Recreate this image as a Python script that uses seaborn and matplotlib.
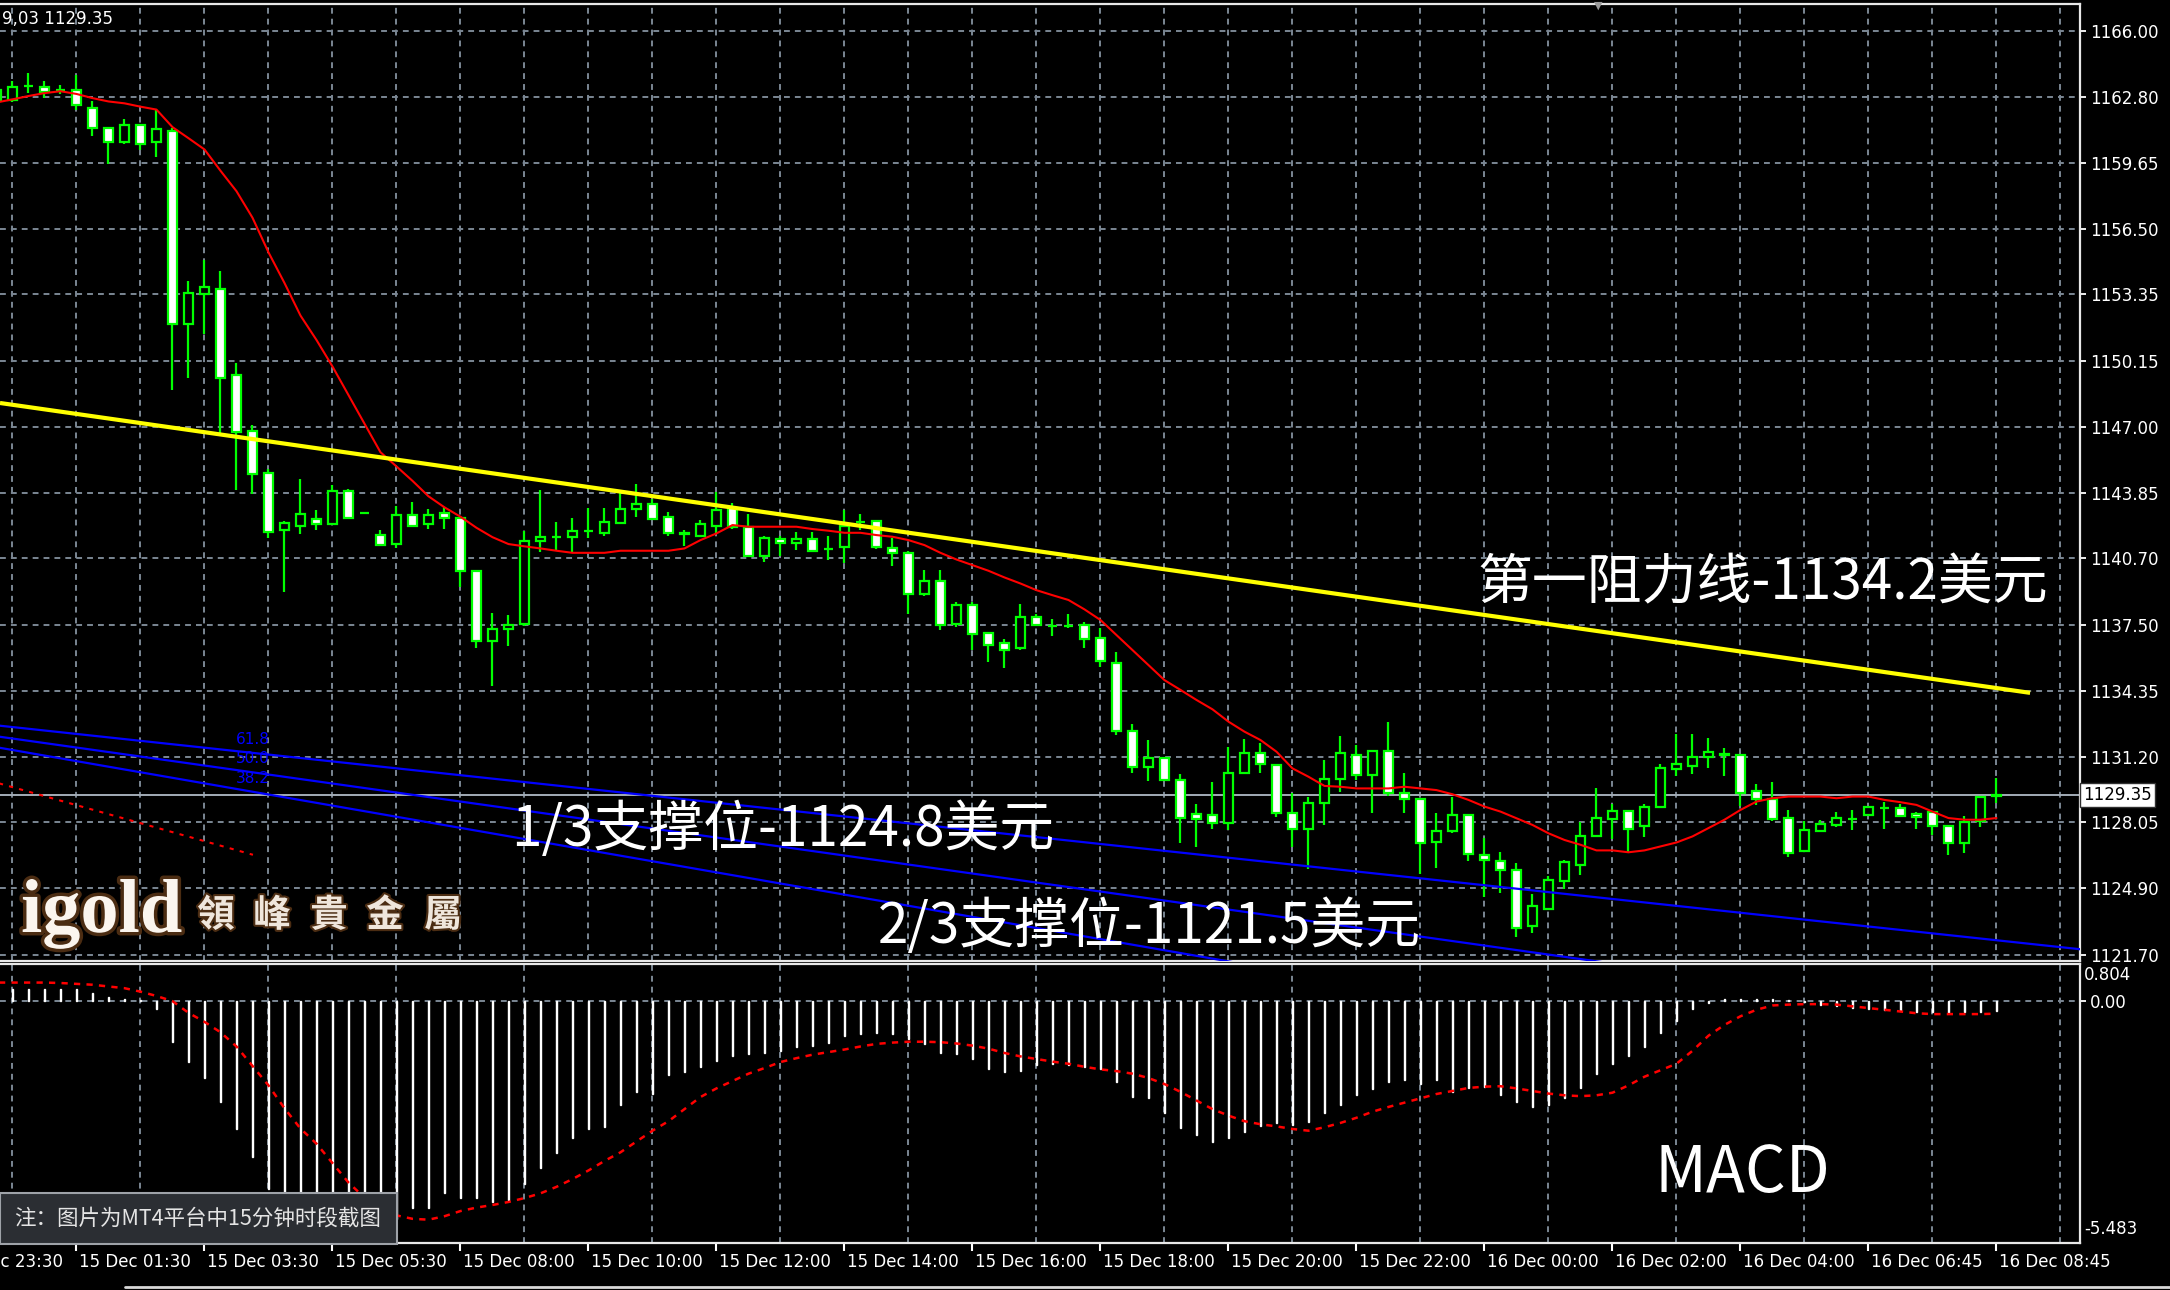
import matplotlib
matplotlib.use("Agg")
import matplotlib.pyplot as plt
import matplotlib.transforms as mtransforms
import matplotlib.patheffects as pe
from matplotlib.patches import Rectangle
from matplotlib.lines import Line2D
import seaborn as sns
import pandas as pd

sns.set_theme(style="dark", rc={"axes.facecolor": "black", "figure.facecolor": "black"})
plt.rcParams["font.family"] = ["DejaVu Sans", "Noto Sans CJK SC"]

# ---------------------------------------------------------------
# data (15 min bars, index 0 = first full bar on screen)
# ---------------------------------------------------------------
bar_idx = list(range(-1, 125))

opens = [1162.66, 1162.66, 1163.35, 1163.29, 1163.15, 1163.15, 1162.31, 1161.33, 1160.65, 1161.47,
         1160.65, 1161.20, 1151.95, 1153.38, 1153.61, 1149.50, 1146.81, 1144.81, 1142.07, 1142.27,
         1142.60, 1142.37, 1143.93, 1142.88, 1141.82, 1141.39, 1142.80, 1142.37, 1142.90, 1142.66,
         1140.12, 1136.74, 1137.32, 1137.58, 1141.53, 1141.74, 1141.71, 1142.03, 1141.90, 1142.38,
         1143.07, 1143.29, 1142.70, 1141.93, 1141.79, 1142.27, 1143.10, 1142.22, 1140.83, 1141.64,
         1141.42, 1141.64, 1141.15, 1141.23, 1142.46, 1142.49, 1141.18, 1140.97, 1139.02, 1139.63,
         1137.58, 1138.49, 1137.13, 1136.65, 1136.43, 1137.90, 1137.47, 1137.48, 1137.51, 1136.87,
         1135.70, 1132.45, 1130.72, 1131.12, 1130.08, 1128.44, 1128.41, 1128.02, 1130.40, 1131.39,
         1130.80, 1128.52, 1127.75, 1128.99, 1130.14, 1131.30, 1130.34, 1131.47, 1129.46, 1129.19,
         1127.09, 1127.64, 1128.41, 1126.50, 1126.21, 1125.75, 1123.07, 1123.90, 1125.25, 1126.03,
         1127.38, 1128.22, 1128.62, 1127.86, 1128.78, 1130.61, 1130.77, 1131.20, 1131.33, 1131.28,
         1129.58, 1129.18, 1128.26, 1126.70, 1127.65, 1127.91, 1128.22, 1128.42, 1128.73, 1128.73,
         1128.44, 1128.53, 1127.86, 1127.06, 1128.10, 1129.30]
highs = [1163.20, 1163.58, 1163.97, 1163.58, 1163.39, 1163.88, 1162.64, 1161.33, 1161.76, 1161.47,
         1162.21, 1161.33, 1154.00, 1154.98, 1154.49, 1150.09, 1147.10, 1145.01, 1142.51, 1144.52,
         1143.00, 1144.23, 1144.03, 1142.88, 1142.07, 1143.19, 1143.39, 1143.09, 1143.15, 1142.70,
         1140.12, 1138.11, 1138.01, 1142.00, 1143.98, 1142.44, 1142.62, 1143.13, 1143.10, 1143.82,
         1144.27, 1143.53, 1142.91, 1142.06, 1142.54, 1143.87, 1143.34, 1142.83, 1141.77, 1141.77,
         1141.98, 1141.98, 1141.77, 1143.02, 1142.83, 1142.49, 1141.66, 1141.07, 1140.14, 1140.14,
         1138.62, 1138.62, 1137.13, 1136.86, 1138.51, 1138.03, 1137.82, 1138.02, 1137.64, 1137.35,
         1136.20, 1132.77, 1132.00, 1131.12, 1130.37, 1128.93, 1130.00, 1131.67, 1132.07, 1131.87,
         1130.80, 1129.48, 1129.28, 1131.04, 1132.20, 1131.78, 1131.50, 1132.84, 1130.43, 1129.19,
         1128.52, 1129.28, 1128.41, 1127.29, 1126.61, 1126.13, 1124.63, 1125.46, 1126.26, 1128.05,
         1129.69, 1128.94, 1128.62, 1128.94, 1130.85, 1132.28, 1132.28, 1132.08, 1131.60, 1131.28,
         1129.90, 1130.01, 1128.65, 1128.10, 1128.15, 1128.53, 1128.65, 1128.81, 1129.05, 1128.94,
         1128.53, 1128.62, 1127.94, 1128.34, 1129.29, 1130.17]
lows = [1162.50, 1162.55, 1163.00, 1162.76, 1162.96, 1162.21, 1160.94, 1159.61, 1160.55, 1160.26,
        1159.96, 1148.76, 1149.35, 1151.46, 1146.67, 1143.99, 1143.80, 1141.68, 1139.10, 1141.88,
        1142.07, 1142.37, 1142.66, 1142.88, 1141.33, 1141.20, 1142.27, 1142.11, 1142.11, 1139.34,
        1136.41, 1134.61, 1136.50, 1137.45, 1141.02, 1141.10, 1140.97, 1141.69, 1141.77, 1142.38,
        1142.67, 1142.57, 1141.77, 1141.29, 1141.71, 1141.90, 1142.09, 1140.75, 1140.54, 1140.81,
        1141.10, 1141.05, 1140.65, 1140.46, 1142.06, 1141.13, 1140.33, 1138.03, 1138.89, 1137.26,
        1137.42, 1136.30, 1135.74, 1135.47, 1136.30, 1137.50, 1136.99, 1137.35, 1136.42, 1135.51,
        1132.24, 1130.40, 1130.04, 1130.08, 1127.05, 1126.88, 1127.72, 1127.69, 1130.40, 1130.40,
        1128.33, 1126.87, 1125.80, 1127.91, 1129.50, 1130.10, 1128.49, 1129.30, 1128.49, 1125.60,
        1125.89, 1127.53, 1126.18, 1124.47, 1124.66, 1122.56, 1122.75, 1123.90, 1124.86, 1125.52,
        1127.38, 1127.25, 1126.62, 1127.35, 1128.78, 1130.28, 1130.37, 1130.67, 1130.28, 1128.85,
        1128.89, 1128.10, 1126.40, 1126.70, 1127.57, 1127.81, 1127.70, 1128.42, 1127.73, 1128.34,
        1127.73, 1127.46, 1126.51, 1126.59, 1127.83, 1128.97]
closes = [1163.13, 1163.29, 1163.35, 1163.05, 1163.15, 1162.41, 1161.33, 1160.65, 1161.47, 1160.55,
          1161.27, 1151.95, 1153.42, 1153.71, 1149.37, 1146.77, 1144.77, 1141.98, 1142.41, 1142.82,
          1142.37, 1143.93, 1142.66, 1142.88, 1141.33, 1142.80, 1142.27, 1142.80, 1142.66, 1140.12,
          1136.74, 1137.32, 1137.52, 1141.55, 1141.74, 1141.74, 1142.03, 1142.03, 1142.43, 1143.07,
          1143.29, 1142.57, 1141.90, 1141.85, 1142.33, 1143.02, 1142.22, 1140.83, 1141.66, 1141.42,
          1141.64, 1141.05, 1141.15, 1142.27, 1142.46, 1141.23, 1140.94, 1139.02, 1139.63, 1137.50,
          1138.49, 1137.10, 1136.54, 1136.33, 1137.90, 1137.50, 1137.47, 1137.48, 1136.84, 1135.80,
          1132.43, 1130.72, 1131.12, 1130.08, 1128.25, 1128.20, 1128.04, 1130.43, 1131.39, 1130.83,
          1128.52, 1127.75, 1129.00, 1130.13, 1131.39, 1130.34, 1131.47, 1129.47, 1129.18, 1127.08,
          1127.66, 1128.41, 1126.54, 1126.23, 1125.75, 1122.99, 1124.03, 1125.27, 1126.14, 1127.38,
          1128.26, 1128.62, 1127.75, 1128.81, 1130.64, 1130.83, 1131.20, 1131.41, 1131.28, 1129.48,
          1129.18, 1128.22, 1126.59, 1127.67, 1127.99, 1128.26, 1128.22, 1128.81, 1128.73, 1128.34,
          1128.30, 1127.86, 1127.06, 1128.05, 1129.29, 1129.35]

# red moving average
ma_line = [1162.55, 1162.70, 1162.86, 1163.00, 1163.09, 1162.96, 1162.76, 1162.60, 1162.51, 1162.35,
           1162.21, 1161.37, 1160.84, 1160.30, 1159.28, 1158.30, 1157.03, 1155.37, 1153.90, 1152.34,
           1151.17, 1149.90, 1148.53, 1147.16, 1145.79, 1145.11, 1144.42, 1143.68, 1143.15, 1142.70,
           1142.17, 1141.72, 1141.39, 1141.28, 1141.18, 1141.07, 1140.97, 1140.97, 1140.97, 1141.07,
           1141.07, 1141.07, 1141.07, 1141.18, 1141.58, 1141.90, 1142.30, 1142.22, 1142.22, 1142.22,
           1142.22, 1142.11, 1142.03, 1141.93, 1141.93, 1141.82, 1141.74, 1141.58, 1141.34, 1140.97,
           1140.65, 1140.38, 1140.11, 1139.79, 1139.50, 1139.18, 1138.94, 1138.71, 1138.26, 1137.75,
           1137.03, 1136.31, 1135.59, 1134.87, 1134.40, 1133.92, 1133.47, 1132.88, 1132.40, 1132.00,
           1131.44, 1130.64, 1130.24, 1129.80, 1129.76, 1129.68, 1129.68, 1129.68, 1129.76, 1129.68,
           1129.60, 1129.40, 1129.13, 1128.81, 1128.57, 1128.25, 1127.93, 1127.53, 1127.21, 1126.98,
           1126.71, 1126.71, 1126.62, 1126.71, 1126.90, 1127.09, 1127.38, 1127.78, 1128.18, 1128.65,
           1129.05, 1129.21, 1129.29, 1129.29, 1129.29, 1129.21, 1129.29, 1129.29, 1129.13, 1129.02,
           1128.89, 1128.57, 1128.26, 1128.18, 1128.18, 1128.26]

# MACD histogram and signal
macd_hist = [0.28, 0.28, 0.28, 0.28, 0.28, 0.28, 0.19, 0.10, 0.05, 0.02,
             -0.18, -0.95, -1.41, -1.79, -2.33, -2.97, -3.62, -4.35, -4.60, -4.85,
             -5.05, -5.25, -5.40, -5.48, -5.35, -5.05, -4.80, -4.80, -4.45, -4.55,
             -4.55, -4.65, -4.60, -4.24, -3.86, -3.52, -3.18, -2.95, -2.92, -2.40,
             -2.11, -2.15, -1.71, -1.63, -1.53, -1.38, -1.26, -1.22, -1.19, -1.15,
             -1.07, -1.03, -0.96, -0.80, -0.77, -0.73, -0.77, -0.88, -0.99, -1.19,
             -1.22, -1.34, -1.57, -1.64, -1.61, -1.49, -1.45, -1.49, -1.53, -1.57,
             -1.87, -2.22, -2.25, -2.60, -2.94, -3.09, -3.25, -3.17, -3.02, -2.90,
             -2.83, -2.86, -2.79, -2.60, -2.41, -2.18, -2.03, -1.87, -1.83, -1.91,
             -1.83, -2.10, -2.02, -1.99, -2.18, -2.33, -2.44, -2.41, -2.25, -2.02,
             -1.68, -1.45, -1.26, -1.07, -0.73, -0.46, -0.19, -0.04, 0.04, 0.06,
             0.06, 0.05, 0.03, -0.02, -0.08, -0.12, -0.15, -0.18, -0.20, -0.22,
             -0.24, -0.25, -0.27, -0.26, -0.24, -0.22]
macd_signal = [0.43, 0.43, 0.43, 0.43, 0.42, 0.40, 0.38, 0.34, 0.30, 0.22,
               0.12, 0.00, -0.27, -0.48, -0.72, -1.05, -1.50, -1.95, -2.48, -2.95,
               -3.30, -3.75, -4.20, -4.55, -4.80, -4.96, -5.04, -5.06, -4.98, -4.86,
               -4.78, -4.72, -4.65, -4.56, -4.45, -4.30, -4.12, -3.92, -3.70, -3.50,
               -3.25, -3.00, -2.78, -2.50, -2.22, -2.02, -1.85, -1.68, -1.55, -1.41,
               -1.32, -1.24, -1.18, -1.12, -1.05, -0.99, -0.96, -0.94, -0.94, -0.95,
               -0.98, -1.03, -1.10, -1.20, -1.28, -1.34, -1.40, -1.45, -1.52, -1.58,
               -1.62, -1.68, -1.78, -1.92, -2.10, -2.30, -2.50, -2.65, -2.78, -2.85,
               -2.90, -2.96, -3.00, -2.92, -2.82, -2.70, -2.56, -2.45, -2.35, -2.25,
               -2.15, -2.08, -2.01, -1.98, -1.97, -2.02, -2.08, -2.14, -2.18, -2.20,
               -2.18, -2.12, -1.95, -1.75, -1.60, -1.45, -1.15, -0.80, -0.55, -0.35,
               -0.20, -0.10, -0.08, -0.07, -0.07, -0.08, -0.12, -0.16, -0.20, -0.24,
               -0.28, -0.30, -0.30, -0.30, -0.30, -0.29]

price_grid = [1166.00, 1162.80, 1159.65, 1156.50, 1153.35, 1150.15, 1147.00, 1143.85,
              1140.70, 1137.50, 1134.35, 1131.20, 1128.05, 1124.90, 1121.70]
last_price = 1129.35

time_ticks = [-4, 4, 12, 20, 28, 36, 44, 52, 60, 68, 76, 84, 92, 100, 108, 116, 124]
time_labels = ["14 Dec 23:30", "15 Dec 01:30", "15 Dec 03:30", "15 Dec 05:30", "15 Dec 08:00",
               "15 Dec 10:00", "15 Dec 12:00", "15 Dec 14:00", "15 Dec 16:00", "15 Dec 18:00",
               "15 Dec 20:00", "15 Dec 22:00", "16 Dec 00:00", "16 Dec 02:00", "16 Dec 04:00",
               "16 Dec 06:45", "16 Dec 08:45"]

# yellow resistance trend line
trend_bars = [-0.78, 126.1]
trend_prices = [1148.15, 1134.26]

# fibonacci fan
fan_start_bar, fan_start_price = -21.6, 1134.40
fan_end_bar, fan_end_price = 15.03, 1126.50
fan_levels = [61.8, 50.0, 38.2]

df = pd.DataFrame({"bar": bar_idx, "open": opens, "high": highs, "low": lows,
                   "close": closes, "ma": ma_line, "hist": macd_hist, "signal": macd_signal})

# ---------------------------------------------------------------
# layout
# ---------------------------------------------------------------
W, H = 2170, 1290
GREEN = "#00ff00"
GRID = "#7b8794"
GRID_LS = (0, (3, 2.6))


def fx(px):
    return px / W


def fy(py):
    return 1 - py / H


fig = plt.figure(figsize=(W / 100, H / 100), dpi=100, facecolor="black")
ax = fig.add_axes([0, fy(961), 2080 / W, (961 - 4) / H])
ax2 = fig.add_axes([0, fy(1243), 2080 / W, (1243 - 964) / H])

for a in (ax, ax2):
    a.set_facecolor("black")
    a.set_xlim(-0.78, 129.22)
    a.set_axisbelow(True)
    for side in ("top", "bottom", "right"):
        a.spines[side].set_color("#e8e8e8")
        a.spines[side].set_linewidth(1.6)
    a.spines["left"].set_visible(False)

ax.set_ylim(1121.41, 1167.27)
ax2.set_ylim(-5.60, 0.86)

# grids
grid_bars = list(range(0, 129, 4))
ax.set_xticks(grid_bars)
ax.set_yticks(price_grid)
ax.set_yticklabels([f"{p:.2f}" for p in price_grid])
ax.tick_params(axis="x", length=0, labelbottom=False)
ax.tick_params(axis="y", left=False, right=True, labelleft=False, labelright=True,
               length=4, width=1.3, color="white", labelcolor="white", labelsize=12, pad=3)
ax.grid(True, color=GRID, linestyle=GRID_LS, linewidth=1.4)

ax2.set_xticks([t for t in time_ticks if t >= 0])
ax2.set_xticks(grid_bars, minor=True)
ax2.set_xticklabels([])
ax2.tick_params(axis="x", which="major", bottom=True, length=6, width=1.5,
                color="white", direction="out")
ax2.tick_params(axis="x", which="minor", length=0)
ax2.set_yticks([0])
ax2.set_yticklabels(["0.00"])
ax2.tick_params(axis="y", left=False, right=True, labelleft=False, labelright=True,
                length=4, width=1.3, color="white", labelcolor="white", labelsize=12, pad=3)
ax2.grid(True, which="minor", axis="x", color=GRID, linestyle=GRID_LS, linewidth=1.4)
ax2.grid(True, which="major", axis="y", color=GRID, linestyle=GRID_LS, linewidth=1.4)

# ---------------------------------------------------------------
# price panel
# ---------------------------------------------------------------
ax.axhline(last_price, color="#a3acb6", linewidth=1.4, zorder=2)

body_bottom = [min(o, c) for o, c in zip(opens, closes)]
body_height = [abs(c - o) for o, c in zip(opens, closes)]
body_face = ["white" if c < o else "black" for o, c in zip(opens, closes)]
ax.vlines(df["bar"], df["low"], df["high"], color=GREEN, linewidth=1.6, zorder=3)
ax.bar(df["bar"], body_height, bottom=body_bottom, width=0.56, color=body_face,
       edgecolor=GREEN, linewidth=1.6, zorder=4)

sns.lineplot(data=df, x="bar", y="ma", ax=ax, color="#ff0000", linewidth=1.5, zorder=5)

ax.plot(trend_bars, trend_prices, color="#ffff00", linewidth=3.0, zorder=6,
        solid_capstyle="butt")

# fibonacci fan
ax.plot([fan_start_bar, fan_end_bar], [fan_start_price, fan_end_price], color="#ff0000",
        linewidth=1.5, linestyle=(0, (2, 3)), zorder=6)
far_bar = 140
for lvl in fan_levels:
    p_lvl = fan_end_price + lvl / 100 * (fan_start_price - fan_end_price)
    slope = (p_lvl - fan_start_price) / (fan_end_bar - fan_start_bar)
    ax.plot([fan_start_bar, far_bar],
            [fan_start_price, fan_start_price + slope * (far_bar - fan_start_bar)],
            color="#0000ff", linewidth=1.6, zorder=6)
    ax.text(fan_end_bar, p_lvl + 0.3, f"{lvl:.1f}", color="#0000ff", fontsize=11,
            ha="center", va="bottom", zorder=7)

ax.set_xlabel("")
ax.set_ylabel("")

blend = mtransforms.blended_transform_factory(ax.transAxes, ax.transData)
ax.text(1.0015, last_price, f"{last_price:.2f}", transform=blend, ha="left", va="center",
        fontsize=12, color="black", clip_on=False, zorder=10,
        bbox=dict(boxstyle="square,pad=0.18", facecolor="white", edgecolor="#303030"))

# ---------------------------------------------------------------
# MACD panel
# ---------------------------------------------------------------
ax2.bar(df["bar"], df["hist"], width=0.11, color="#cfcfcf", zorder=3)
sns.lineplot(data=df, x="bar", y="signal", ax=ax2, color="#ff0000", linewidth=1.8,
             linestyle=(0, (2.5, 2.5)), zorder=4)
ax2.set_xlabel("")
ax2.set_ylabel("")

blend2 = mtransforms.blended_transform_factory(ax2.transAxes, ax2.transData)
ax2.text(1.002, 0.804, "0.804", transform=blend2, ha="left", va="top", fontsize=12,
         color="white", clip_on=False)
ax2.text(1.002, -5.483, "-5.483", transform=blend2, ha="left", va="bottom", fontsize=12,
         color="white", clip_on=False)

blend_t = mtransforms.blended_transform_factory(ax2.transData, ax2.transAxes)
for t, lab in zip(time_ticks, time_labels):
    ax2.text(t + 0.15, -0.068, lab, transform=blend_t, ha="left", va="center",
             fontsize=12, color="white", clip_on=False)

# ---------------------------------------------------------------
# annotations and decorations
# ---------------------------------------------------------------
big_font = ["Liberation Sans Narrow", "Noto Sans CJK SC"]
fig.text(fx(1763), fy(584), "第一阻力线-1134.2美元", fontsize=39.5, color="white",
         ha="center", va="center", family=big_font, zorder=8)
fig.text(fx(783), fy(830), "1/3支撑位-1124.8美元", fontsize=39.5, color="white",
         ha="center", va="center", family=big_font, zorder=8)
fig.text(fx(1149), fy(927), "2/3支撑位-1121.5美元", fontsize=39.5, color="white",
         ha="center", va="center", family=big_font, zorder=8)
fig.text(fx(1742), fy(1174), "MACD", fontsize=46, color="white",
         ha="center", va="center", family=big_font, zorder=8)

fig.text(fx(2), fy(19), "9,03 1129.35", fontsize=12, color="white", ha="left", va="center")
fig.text(fx(1598), fy(6), "▼", fontsize=8, color="#9a9a9a", ha="center", va="center")

# logo
glow = [pe.withStroke(linewidth=5, foreground="#4b2c12")]
fig.text(fx(21), fy(932), "igold", fontsize=55, color="#fbf5ee", fontweight="bold",
         family=["Liberation Serif", "DejaVu Serif"], ha="left", va="baseline",
         path_effects=glow, zorder=8)
for cx, ch in zip([216, 272, 329, 385, 443], "領峰貴金屬"):
    fig.text(fx(cx), fy(915), ch, fontsize=27, color="#efe6dc", fontweight="bold",
             family=["Noto Sans CJK TC", "Noto Sans CJK SC"], ha="center", va="center",
             path_effects=[pe.withStroke(linewidth=3, foreground="#4b2c12")], zorder=8)

# note box
fig.add_artist(Rectangle((0, fy(1244)), 397 / W, 51 / H, transform=fig.transFigure,
                         facecolor="#2b2e33", edgecolor="#9ea2a8", linewidth=1.5, zorder=9))
fig.text(fx(14), fy(1219), "注：图片为MT4平台中15分钟时段截图", fontsize=15.5, color="#e4e4e4",
         ha="left", va="center", family=["Noto Sans CJK SC", "DejaVu Sans"], zorder=10)

fig.add_artist(Line2D([fx(125), 1], [fy(1287), fy(1287)], transform=fig.transFigure,
                      color="#d8d8d8", linewidth=2))

fig.savefig("out.png", dpi=100, facecolor="black")
plt.close()
